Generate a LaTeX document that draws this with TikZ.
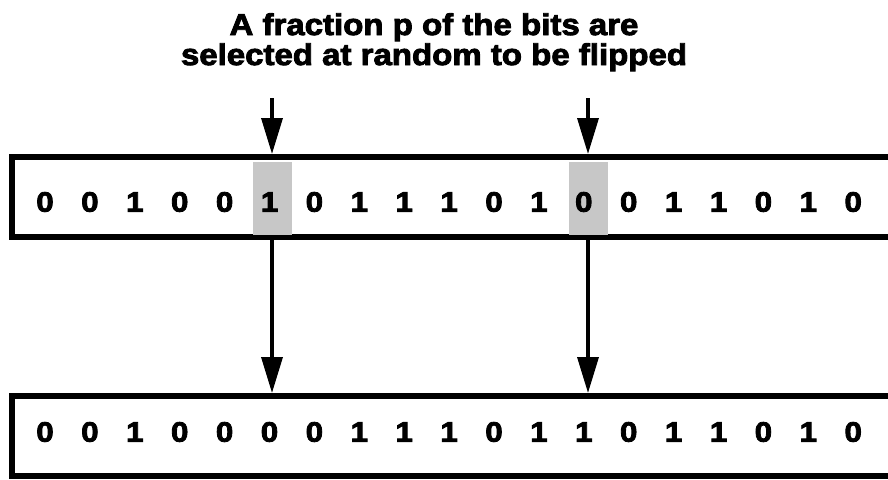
\documentclass[tikz,border=0pt]{standalone}
\usepackage{fontspec}
\newfontfamily\heavy{Liberation Sans}[FakeStretch=1.1,FakeBold=3]
\newfontfamily\heavybits{Liberation Sans}[FakeStretch=1.12,FakeBold=3]
\usetikzlibrary{arrows.meta}
\begin{document}
\begin{tikzpicture}[x=1pt,y=-1pt,
  bitbox/.style={draw=black, line width=6pt, minimum width=960pt, minimum height=80pt, anchor=north west, inner sep=0pt},
  bit/.style={font=\heavybits\bfseries\fontsize{28}{28}\selectfont, inner sep=0pt},
  titletext/.style={font=\heavy\bfseries\fontsize{30}{30}\selectfont, inner sep=0pt, anchor=base},
  flipmark/.style={fill=black!22, minimum width=39pt, minimum height=73pt, inner sep=0pt},
  arr/.style={line width=3.5pt, -{Triangle[length=36pt,width=21pt]}}]
\useasboundingbox (0,0) rectangle (888,479);
\clip (0,0) rectangle (888,479);
% title
\node[titletext] (l1) at (434,35) {A fraction p of the bits are};
\node[titletext] (l2) at (434,65) {selected at random to be flipped};
% boxes
\node[bitbox] (top) at (8.5,154) {};
\node[bitbox] (bot) at (8.5,393) {};
% highlighted bits
\node[flipmark] (h1) at (272.5,198.5) {};
\node[flipmark] (h2) at (588.5,198.5) {};
% bits
\foreach \b [count=\i from 0] in {0,0,1,0,0,1,0,1,1,1,0,1,0,0,1,1,0,1,0}
  \node[bit] (t\i) at ({45+44.9*\i},202) {\b};
\foreach \b [count=\i from 0] in {0,0,1,0,0,0,0,1,1,1,0,1,1,0,1,1,0,1,0}
  \node[bit] (b\i) at ({45+44.9*\i},432) {\b};
% arrows
\coordinate (s1) at (272,98);
\coordinate (s2) at (588,98);
\draw[arr] (s1) -- (s1 |- top.north);
\draw[arr] (s2) -- (s2 |- top.north);
\draw[arr] (s1 |- top.south) -- (s1 |- bot.north);
\draw[arr] (s2 |- top.south) -- (s2 |- bot.north);
\end{tikzpicture}
\end{document}
